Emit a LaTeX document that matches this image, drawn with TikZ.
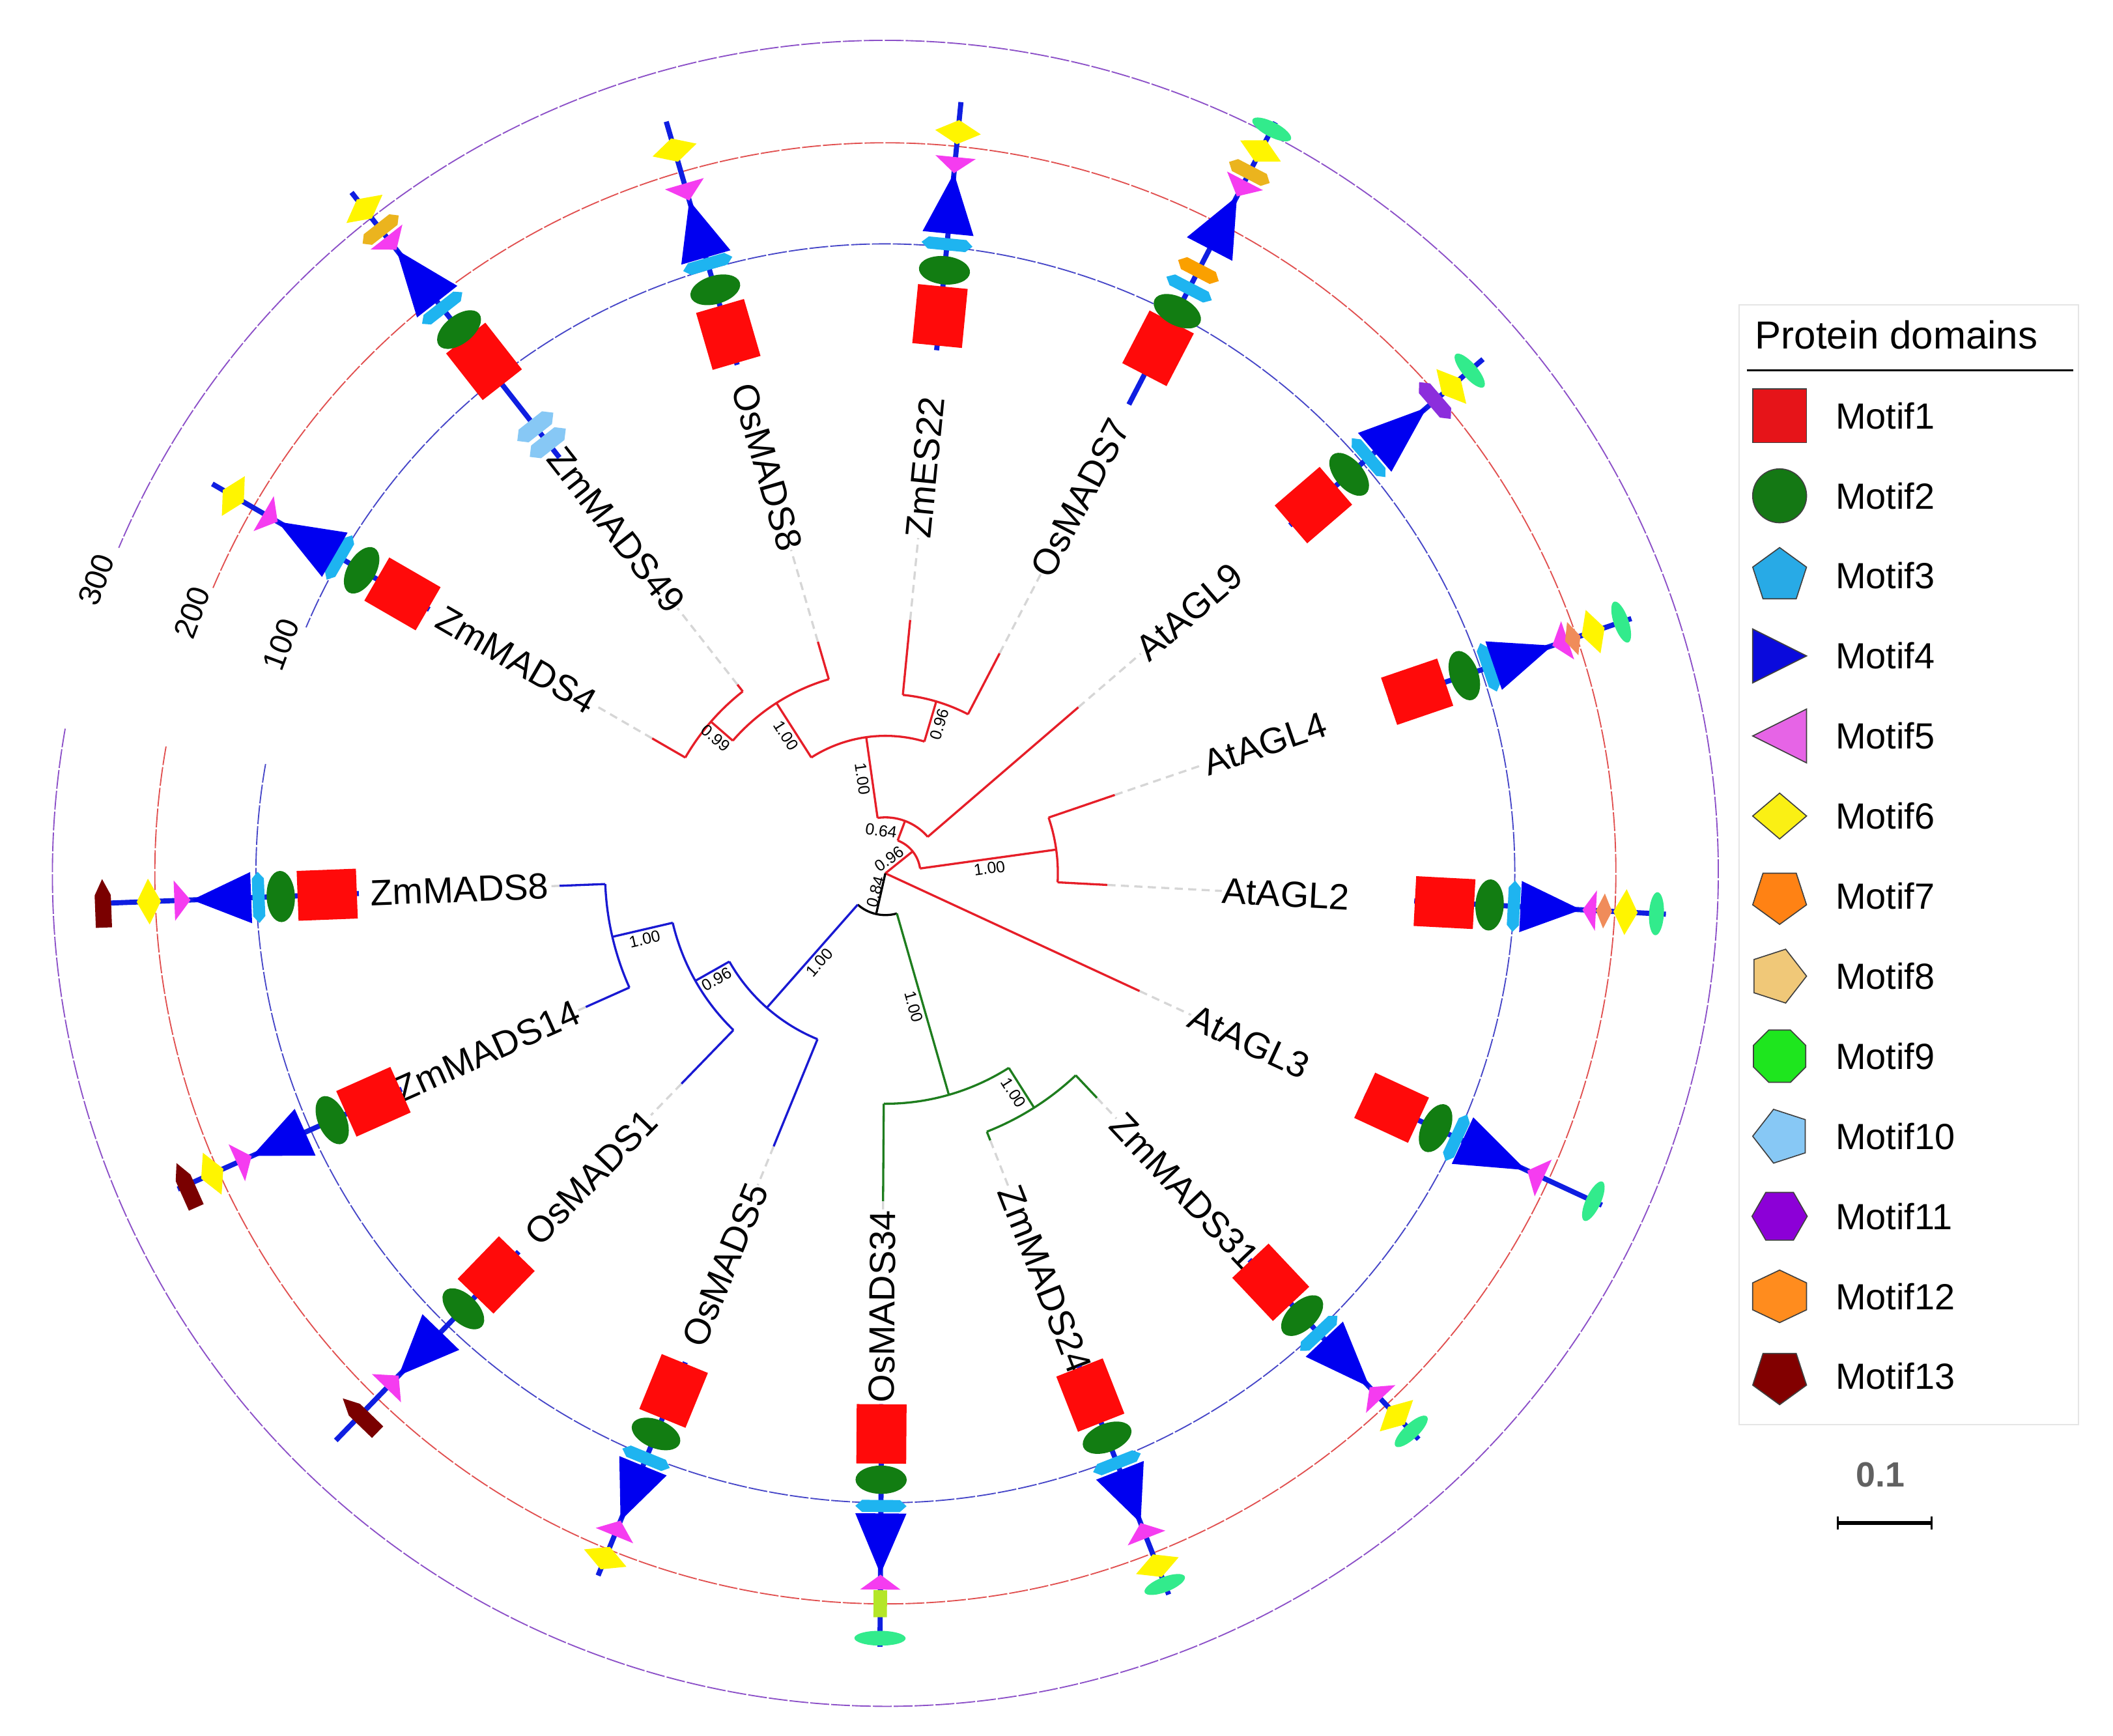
\documentclass[tikz,border=0pt]{standalone}
\usepackage{fontspec}
\setmainfont{Liberation Sans}
\usetikzlibrary{calc}
\definecolor{cA}{RGB}{255,10,10}
\definecolor{cB}{RGB}{18,125,18}
\definecolor{cC}{RGB}{30,180,240}
\definecolor{cD}{RGB}{0,0,240}
\definecolor{cE}{RGB}{245,60,240}
\definecolor{cF}{RGB}{255,245,0}
\definecolor{cG}{RGB}{250,160,0}
\definecolor{cH}{RGB}{235,180,30}
\definecolor{cI}{RGB}{50,235,140}
\definecolor{cJ}{RGB}{135,200,245}
\definecolor{cK}{RGB}{140,46,220}
\definecolor{cL}{RGB}{240,140,90}
\definecolor{cM}{RGB}{122,0,0}
\definecolor{cN}{RGB}{180,230,40}
\definecolor{lA}{RGB}{230,20,25}
\definecolor{lB}{RGB}{20,120,20}
\definecolor{lC}{RGB}{40,170,230}
\definecolor{lD}{RGB}{10,10,220}
\definecolor{lE}{RGB}{230,100,230}
\definecolor{lF}{RGB}{250,240,20}
\definecolor{lG}{RGB}{255,130,20}
\definecolor{lH}{RGB}{240,200,120}
\definecolor{lI}{RGB}{30,230,30}
\definecolor{lJ}{RGB}{135,200,245}
\definecolor{lK}{RGB}{140,0,215}
\definecolor{lL}{RGB}{255,140,30}
\definecolor{lM}{RGB}{130,0,0}
\definecolor{bred}{RGB}{230,30,40}
\definecolor{bblue}{RGB}{25,25,210}
\definecolor{bgreen}{RGB}{30,125,30}
\definecolor{gblue}{RGB}{70,70,200}
\definecolor{gred}{RGB}{225,80,80}
\definecolor{gpur}{RGB}{140,80,200}
\definecolor{mblue}{RGB}{15,30,225}
\newcommand\Mot[3]{\begin{scope}[shift={(#1:#2)},rotate=#1]#3\end{scope}}
\newcommand\shA{\fill[cA] (-22,-18.5) rectangle (22,18.5);}
\newcommand\shB{\fill[cB] (0,0) ellipse[x radius=10.5, y radius=19];}
\newcommand\shC{\fill[cC] (-4.5,-14) -- (0,-19) -- (4.5,-14) -- (4.5,14) -- (0,19) -- (-4.5,14) -- cycle;}
\newcommand\shD[1]{\fill[cD] (0,-19) -- (#1,0) -- (0,19) -- cycle;}
\newcommand\shE[1]{\fill[cE] (0,0) -- (#1,-15) -- (#1,15) -- cycle;}
\newcommand\shF{\fill[cF] (-9,0) -- (0,-17) -- (9,0) -- (0,17) -- cycle;}
\newcommand\shG{\fill[cG] (-5,-12) -- (0,-17) -- (5,-12) -- (5,12) -- (0,17) -- (-5,12) -- cycle;}
\newcommand\shH{\fill[cH] (-5,-12) -- (0,-17) -- (5,-12) -- (5,12) -- (0,17) -- (-5,12) -- cycle;}
\newcommand\shI{\fill[cI] (0,0) ellipse[x radius=5.5, y radius=16];}
\newcommand\shIb{\fill[cI] (0,0) ellipse[x radius=5.5, y radius=19];}
\newcommand\shJ{\fill[cJ] (-6,-11) -- (0,-17) -- (6,-11) -- (6,11) -- (0,17) -- (-6,11) -- cycle;}
\newcommand\shK{\fill[cK] (-5.5,-12) -- (0,-18) -- (5.5,-12) -- (5.5,12) -- (0,18) -- (-5.5,12) -- cycle;}
\newcommand\shL{\fill[cL] (-6,0) -- (0,-13) -- (6,0) -- (0,13) -- cycle;}
\newcommand\shM{\fill[cM] (-6,18) -- (6,18) -- (6,-6) -- (0,-18) -- (-6,-6) -- cycle;}
\newcommand\shN{\fill[cN] (-10,-5) rectangle (10,5);}
\begin{document}
\begin{tikzpicture}[x=1pt,y=1pt,
  lab/.style={font=\fontsize{27}{30}\selectfont, inner sep=0pt},
  bs/.style={font=\fontsize{12}{13}\selectfont, inner sep=2.5pt},
  br/.style={line width=1.6pt, bred},
  bb/.style={line width=1.6pt, bblue},
  bg/.style={line width=1.6pt, bgreen},
  bk/.style={line width=1.6pt, black},
  mline/.style={line width=3.8pt, mblue},
  guide/.style={line width=0.9pt, dash pattern=on 14pt off 1.5pt},
  leafdash/.style={line width=1.6pt, black!16, dash pattern=on 6pt off 4pt},
  legtxt/.style={font=\fontsize{27}{30}\selectfont, inner sep=0pt, anchor=west},
  legic/.style={line width=0.8pt, draw=black!75},
  sc/.style={font=\fontsize{23}{25}\selectfont, inner sep=0pt},
]
\useasboundingbox (-657,-640) rectangle (911,648);
\fill[white] (-657,-640) rectangle (911,648);

% guide circles
\draw[gblue, guide] (170:467) arc[start angle=170, end angle=517, radius=467];
\draw[gred, guide] (170:542) arc[start angle=170, end angle=517, radius=542];
\draw[gpur, guide] (170:618) arc[start angle=170, end angle=517, radius=618];
\node[sc, rotate=69.6] (s300) at (159.6:624.8) {300};
\node[sc, rotate=69.6] (s200) at (159.4:549.8) {200};
\node[sc, rotate=69.6] (s100) at (159.25:479.6) {100};

% ---------- tree: red clade ----------
\draw[br] (0,0) -- (38.7:26);
\draw[br] (7.9:26) arc[start angle=7.9, end angle=69.4, radius=26];
\draw[br] (7.9:26) -- (7.9:128);
\draw[br] (-3:128) arc[start angle=-3, end angle=18.85, radius=128];
\draw[br] (-3:128) -- (-3:165);
\draw[br] (18.85:128) -- (18.85:180);
\draw[br] (69.4:26) -- (69.4:41.5);
\draw[br] (40.7:41.5) arc[start angle=40.7, end angle=98, radius=41.5];
\draw[br] (40.7:41.5) -- (40.7:189);
\draw[br] (98:41.5) -- (98:102);
\draw[br] (73.5:102) arc[start angle=73.5, end angle=122.6, radius=102];
\draw[br] (73.5:102) -- (73.5:133);
\draw[br] (62.55:133) arc[start angle=62.55, end angle=84.4, radius=133];
\draw[br] (62.55:133) -- (62.55:184);
\draw[br] (84.4:133) -- (84.4:189);
\draw[br] (122.6:102) -- (122.6:150);
\draw[br] (106.25:150) arc[start angle=106.25, end angle=139, radius=150];
\draw[br] (106.25:150) -- (106.25:179);
\draw[br] (139:150) -- (139:171.5);
\draw[br] (128.1:171.5) arc[start angle=128.1, end angle=149.95, radius=171.5];
\draw[br] (128.1:171.5) -- (128.1:178);
\draw[br] (149.95:171.5) -- (149.95:200);
\draw[br] (0,0) -- (335.15:208);
% black
\draw[bk] (0,0) -- (257.3:31);
\draw[bk] (228.6:31) arc[start angle=228.6, end angle=286, radius=31];
% blue clade
\draw[bb] (228.6:31) -- (228.6:133);
\draw[bb] (209.5:133) arc[start angle=209.5, end angle=247.75, radius=133];
\draw[bb] (247.75:133) -- (247.75:219);
\draw[bb] (209.5:133) -- (209.5:162);
\draw[bb] (193.1:162) arc[start angle=193.1, end angle=225.9, radius=162];
\draw[bb] (225.9:162) -- (225.9:217.5);
\draw[bb] (193.1:162) -- (193.1:208);
\draw[bb] (182.2:208) arc[start angle=182.2, end angle=204.05, radius=208];
\draw[bb] (182.2:208) -- (182.2:242);
\draw[bb] (204.05:208) -- (204.05:243.5);
% green clade
\draw[bg] (286:31) -- (286:171);
\draw[bg] (269.6:171) arc[start angle=269.6, end angle=302.4, radius=171];
\draw[bg] (269.6:171) -- (269.6:243.4);
\draw[bg] (302.4:171) -- (302.4:206);
\draw[bg] (291.45:206) arc[start angle=291.45, end angle=313.3, radius=206];
\draw[bg] (291.45:206) -- (291.45:213);
\draw[bg] (313.3:206) -- (313.3:229);

% bootstrap values
\path (7.9:26) -- (7.9:128) node[bs, midway, below, sloped] {1.00};
\path (98:41.5) -- (98:102) node[bs, midway, below, sloped] {1.00};
\path (122.6:102) -- (122.6:150) node[bs, midway, below, sloped] {1.00};
\path (139:150) -- (139:171.5) node[bs, midway, below, sloped] {0.99};
\path (73.5:102) -- (73.5:133) node[bs, midway, below, sloped] {0.96};
\path (228.6:31) -- (228.6:133) node[bs, midway, below, sloped] {1.00};
\path (209.5:133) -- (209.5:162) node[bs, midway, below, sloped] {0.96};
\path (193.1:162) -- (193.1:208) node[bs, midway, below, sloped] {1.00};
\path (286:31) -- (286:171) node[bs, midway, below, sloped] {1.00};
\path (302.4:171) -- (302.4:206) node[bs, midway, below, sloped] {1.00};
\node[bs, rotate=35] (b096) at (3,10.8) {0.96};
\node[bs, rotate=-8] (b064) at (-3.1,31.7) {0.64};
\node[bs, rotate=75] (b084) at (-7.3,-13.9) {0.84};

% leaf labels
\node[lab, anchor=east, rotate=2.2] (t0) at (182.2:250) {ZmMADS8};
\node[lab, anchor=east, rotate=24.05] (t1) at (204.05:250) {ZmMADS14};
\node[lab, anchor=east, rotate=45.9] (t2) at (225.9:250) {OsMADS1};
\node[lab, anchor=east, rotate=67.75] (t3) at (247.75:250) {OsMADS5};
\node[lab, anchor=east, rotate=89.6] (t4) at (269.6:250) {OsMADS34};
\node[lab, anchor=west, rotate=291.45] (t5) at (291.45:250) {ZmMADS24};
\node[lab, anchor=west, rotate=313.3] (t6) at (313.3:250) {ZmMADS31};
\node[lab, anchor=west, rotate=335.15] (t7) at (335.15:250) {AtAGL3};
\node[lab, anchor=west, rotate=357] (t8) at (357:250) {AtAGL2};
\node[lab, anchor=west, rotate=18.85] (t9) at (18.85:250) {AtAGL4};
\node[lab, anchor=west, rotate=40.7] (t10) at (40.7:250) {AtAGL9};
\node[lab, anchor=west, rotate=62.55] (t11) at (62.55:250) {OsMADS7};
\node[lab, anchor=west, rotate=84.4] (t12) at (84.4:250) {ZmES22};
\node[lab, anchor=east, rotate=-73.75] (t13) at (106.25:250) {OsMADS8};
\node[lab, anchor=east, rotate=-51.9] (t14) at (128.1:250) {ZmMADS49};
\node[lab, anchor=east, rotate=-30.05] (t15) at (149.95:250) {ZmMADS4};

% dashed leaf connectors
\draw[leafdash] (182.2:242) -- (t0.east);
\draw[leafdash] (204.05:243.5) -- (t1.east);
\draw[leafdash] (225.9:217.5) -- (t2.east);
\draw[leafdash] (247.75:219) -- (t3.east);
\draw[leafdash] (269.6:243.4) -- (t4.east);
\draw[leafdash] (291.45:213) -- (t5.west);
\draw[leafdash] (313.3:229) -- (t6.west);
\draw[leafdash] (335.15:208) -- (t7.west);
\draw[leafdash] (357:165) -- (t8.west);
\draw[leafdash] (18.85:180) -- (t9.west);
\draw[leafdash] (40.7:189) -- (t10.west);
\draw[leafdash] (62.55:184) -- (t11.west);
\draw[leafdash] (84.4:189) -- (t12.west);
\draw[leafdash] (106.25:179) -- (t13.east);
\draw[leafdash] (128.1:178) -- (t14.east);
\draw[leafdash] (149.95:200) -- (t15.east);

% ---------- motifs ----------
% L0 ZmMADS8
\draw[mline] (182.2:391) -- (182.2:580);
\Mot{182.2}{414.5}{\shA}\Mot{182.2}{449}{\shB}\Mot{182.2}{465.5}{\shC}
\Mot{182.2}{471}{\shD{44}}\Mot{182.2}{516}{\shE{12}}\Mot{182.2}{547}{\shF}\Mot{182.2}{581}{\shM}
% L1 ZmMADS14
\draw[mline] (204.05:393) -- (204.05:575);
\Mot{204.05}{416}{\shA}\Mot{204.05}{449.5}{\shB}
\Mot{204.05}{471.5}{\shD{43}}\Mot{204.05}{515}{\shE{12}}\Mot{204.05}{547}{\shF}\Mot{204.05}{568}{\shM}
% L2 OsMADS1
\draw[mline] (225.9:391) -- (225.9:586);
\Mot{225.9}{415}{\shA}\Mot{225.9}{450}{\shB}
\Mot{225.9}{474}{\shD{45}}\Mot{225.9}{519}{\shE{13}}\Mot{225.9}{560}{\shM}
% L3 OsMADS5
\draw[mline] (247.75:392) -- (247.75:563);
\Mot{247.75}{415}{\shA}\Mot{247.75}{449.5}{\shB}\Mot{247.75}{469}{\shC}
\Mot{247.75}{475}{\shD{44}}\Mot{247.75}{519}{\shE{12}}\Mot{247.75}{549}{\shF}
% L4 OsMADS34
\draw[mline] (269.6:394) -- (269.6:574);
\Mot{269.6}{416}{\shA}\Mot{269.6}{450}{\shB}\Mot{269.6}{469.5}{\shC}
\Mot{269.6}{475}{\shD{45}}\Mot{269.6}{520.5}{\shE{11}}\Mot{269.6}{542}{\shN}\Mot{269.6}{567.6}{\shIb}
% L5 ZmMADS24
\draw[mline] (291.45:393) -- (291.45:575);
\Mot{291.45}{416}{\shA}\Mot{291.45}{450}{\shB}\Mot{291.45}{470}{\shC}
\Mot{291.45}{476}{\shD{42}}\Mot{291.45}{518}{\shE{12}}\Mot{291.45}{552}{\shF}\Mot{291.45}{567}{\shI}
% L6 ZmMADS31
\draw[mline] (313.3:394) -- (313.3:577);
\Mot{313.3}{417}{\shA}\Mot{313.3}{451}{\shB}\Mot{313.3}{469}{\shC}
\Mot{313.3}{475}{\shD{49}}\Mot{313.3}{524}{\shE{12}}\Mot{313.3}{553}{\shF}\Mot{313.3}{569}{\shI}
% L7 AtAGL3
\draw[mline] (335.15:392) -- (335.15:586);
\Mot{335.15}{414}{\shA}\Mot{335.15}{450}{\shB}\Mot{335.15}{467}{\shC}
\Mot{335.15}{472}{\shD{52}}\Mot{335.15}{525}{\shE{13}}\Mot{335.15}{579}{\shI}
% L8 AtAGL2
\draw[mline] (357:393) -- (357:580);
\Mot{357}{415.5}{\shA}\Mot{357}{449}{\shB}\Mot{357}{467}{\shC}
\Mot{357}{472}{\shD{45}}\Mot{357}{518}{\shE{10}}\Mot{357}{534}{\shL}\Mot{357}{550}{\shF}\Mot{357}{573}{\shI}
% L9 AtAGL4
\draw[mline] (18.85:395) -- (18.85:585);
\Mot{18.85}{417}{\shA}\Mot{18.85}{454}{\shB}\Mot{18.85}{473}{\shC}
\Mot{18.85}{477}{\shD{46}}\Mot{18.85}{523}{\shE{12}}\Mot{18.85}{539}{\shL}\Mot{18.85}{555}{\shF}\Mot{18.85}{577}{\shI}
% L10 AtAGL9
\draw[mline] (40.7:396) -- (40.7:585);
\Mot{40.7}{419}{\shA}\Mot{40.7}{454}{\shB}\Mot{40.7}{473}{\shC}
\Mot{40.7}{479}{\shD{51}}\Mot{40.7}{538}{\shK}\Mot{40.7}{554}{\shF}\Mot{40.7}{572}{\shI}
% L11 OsMADS7
\draw[mline] (62.55:392) -- (62.55:628);
\Mot{62.55}{439}{\shA}\Mot{62.55}{470}{\shB}\Mot{62.55}{489}{\shC}\Mot{62.55}{504}{\shG}
\Mot{62.55}{522}{\shD{44}}\Mot{62.55}{566}{\shE{13}}\Mot{62.55}{586}{\shH}\Mot{62.55}{604}{\shF}\Mot{62.55}{622}{\shI}
% L12 ZmES22
\draw[mline] (84.4:390) -- (84.4:575);
\Mot{84.4}{415.5}{\shA}\Mot{84.4}{449.6}{\shB}\Mot{84.4}{469}{\shC}
\Mot{84.4}{477}{\shD{45}}\Mot{84.4}{522}{\shE{12}}\Mot{84.4}{552.6}{\shF}
% L13 OsMADS8
\draw[mline] (106.25:393) -- (106.25:581);
\Mot{106.25}{416.5}{\shA}\Mot{106.25}{451}{\shB}\Mot{106.25}{471}{\shC}
\Mot{106.25}{476}{\shD{44}}\Mot{106.25}{520}{\shE{13}}\Mot{106.25}{559}{\shF}
% L14 ZmMADS49
\draw[mline] (128.1:392) -- (128.1:642);
\Mot{128.1}{406}{\shJ}\Mot{128.1}{421}{\shJ}
\Mot{128.1}{482.7}{\shA}\Mot{128.1}{512.7}{\shB}\Mot{128.1}{533}{\shC}
\Mot{128.1}{539}{\shD{49}}\Mot{128.1}{588}{\shE{12}}\Mot{128.1}{607}{\shH}\Mot{128.1}{626.5}{\shF}
% L15 ZmMADS4
\draw[mline] (149.95:391) -- (149.95:577);
\Mot{149.95}{414}{\shA}\Mot{149.95}{449}{\shB}\Mot{149.95}{468}{\shC}
\Mot{149.95}{472}{\shD{49}}\Mot{149.95}{521}{\shE{12}}\Mot{149.95}{559}{\shF}

% ---------- legend ----------
\draw[black!10, line width=1pt] (633.4,-409.2) rectangle (885.5,421.6);
\node[anchor=west, inner sep=0pt, font=\fontsize{29}{32}\selectfont] (ltitle) at (645.3,399.6) {Protein domains};
\draw[black, line width=1.2pt] (639.3,373.1) -- (881.4,373.1);
\foreach \k in {1,...,13} {
  \node[legtxt] (lg\k) at (704.9,{339.5-59.4*(\k-1)}) {Motif\k};
}
\begin{scope}[shift={(663.6,339.5)}]\filldraw[legic, fill=lA] (-20,-20) rectangle (20,20);\end{scope}
\begin{scope}[shift={(663.6,280.1)}]\filldraw[legic, fill=lB] (0,0) circle[radius=20];\end{scope}
\begin{scope}[shift={(663.6,220.7)}]\filldraw[legic, fill=lC] (90:21) -- (162:21) -- (234:21) -- (306:21) -- (18:21) -- cycle;\end{scope}
\begin{scope}[shift={(663.6,161.3)}]\filldraw[legic, fill=lD] (-20,20) -- (20,0) -- (-20,-20) -- cycle;\end{scope}
\begin{scope}[shift={(663.6,101.9)}]\filldraw[legic, fill=lE] (20,20) -- (-20,0) -- (20,-20) -- cycle;\end{scope}
\begin{scope}[shift={(663.6,42.5)}]\filldraw[legic, fill=lF] (-20,0) -- (0,17) -- (20,0) -- (0,-17) -- cycle;\end{scope}
\begin{scope}[shift={(663.6,-16.9)}]\filldraw[legic, fill=lG] (270:21) -- (342:21) -- (54:21) -- (126:21) -- (198:21) -- cycle;\end{scope}
\begin{scope}[shift={(661.6,-76.3)}]\filldraw[legic, fill=lH] (0:22) -- (72:21) -- (144:21) -- (216:21) -- (288:21) -- cycle;\end{scope}
\begin{scope}[shift={(663.6,-135.7)}]\filldraw[legic, fill=lI] (22.5:21) -- (67.5:21) -- (112.5:21) -- (157.5:21) -- (202.5:21) -- (247.5:21) -- (292.5:21) -- (337.5:21) -- cycle;\end{scope}
\begin{scope}[shift={(665.6,-195.1)}]\filldraw[legic, fill=lJ] (180:22) -- (252:21) -- (324:21) -- (36:21) -- (108:21) -- cycle;\end{scope}
\begin{scope}[shift={(663.6,-254.5)}]\filldraw[legic, fill=lK] (0:20.5) -- (60:20.5) -- (120:20.5) -- (180:20.5) -- (240:20.5) -- (300:20.5) -- cycle;\end{scope}
\begin{scope}[shift={(663.6,-313.9)}]\filldraw[legic, fill=lL] (20,10) -- (0,19.5) -- (-20,10) -- (-20,-10) -- (0,-19.5) -- (20,-10) -- cycle;\end{scope}
\begin{scope}[shift={(663.6,-373.3)}]\filldraw[legic, fill=lM] (270:21) -- (342:21) -- (54:21) -- (126:21) -- (198:21) -- cycle;\end{scope}

% scale bar
\node[font=\bfseries\fontsize{26}{28}\selectfont, text=black!62, inner sep=0pt] (sbar) at (738.6,-446.5) {0.1};
\coordinate (sbl) at (706.9,-482.1);
\coordinate (sbr) at (776.3,-482.1);
\draw[line width=2.6pt] (sbl) -- (sbr);
\draw[line width=1.4pt] ($(sbl)+(0,-5)$) -- ($(sbl)+(0,5)$);
\draw[line width=1.4pt] ($(sbr)+(0,-5)$) -- ($(sbr)+(0,5)$);
\end{tikzpicture}
\end{document}
